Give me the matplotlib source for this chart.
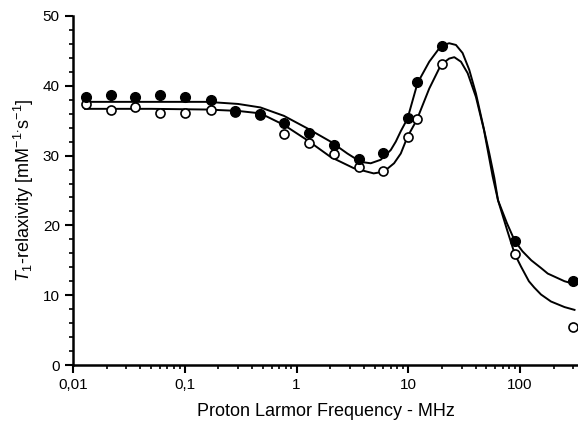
import numpy as np
import matplotlib
matplotlib.use("Agg")
import matplotlib.pyplot as plt
from matplotlib.ticker import LogLocator, FixedLocator, MultipleLocator, NullFormatter

plt.rcParams['font.family'] = 'Liberation Sans'
plt.rcParams['mathtext.fontset'] = 'custom'
plt.rcParams['mathtext.rm'] = 'Liberation Sans'
plt.rcParams['mathtext.it'] = 'Liberation Sans:italic'

# measured points (MHz, mM^-1 s^-1)
freq_filled = [0.013, 0.022, 0.036, 0.06, 0.1, 0.17, 0.28, 0.47, 0.77, 1.3, 2.16, 3.6, 6.0, 10, 12, 20, 90, 300]
r1_filled = [38.4, 38.7, 38.35, 38.7, 38.35, 37.9, 36.4, 36.0, 34.7, 33.3, 31.5, 29.5, 30.4, 35.4, 40.5, 45.75, 17.8, 12.1]

freq_open = [0.013, 0.022, 0.036, 0.06, 0.1, 0.17, 0.28, 0.47, 0.77, 1.3, 2.16, 3.6, 6.0, 10, 12, 20, 90, 300]
r1_open = [37.35, 36.5, 36.9, 36.1, 36.05, 36.6, 36.3, 35.8, 33.1, 31.8, 30.2, 28.4, 27.8, 32.7, 35.2, 43.1, 15.9, 5.5]

# fitted curves
fit_freq_up = [0.0128, 0.05, 0.159, 0.3, 0.475, 0.77, 1.25, 2.02, 2.85, 3.75, 4.61, 5.66, 6.97, 7.73, 8.57,
               9.84, 12.1, 15.4, 19.6, 23.2, 26.7, 30.6, 35.1, 40.3, 46.3, 53.1, 58.9, 63.5, 76.4, 89.6,
               105, 126, 154, 177, 250, 307]
fit_r1_up = [37.7, 37.7, 37.7, 37.4, 36.9, 35.7, 33.9, 32.0, 30.3, 29.1, 28.9, 29.4, 30.8, 32.0, 33.5,
             35.3, 40.4, 43.45, 45.7, 46.1, 45.85, 44.7, 42.3, 38.9, 34.6, 30.3, 26.8, 23.6, 20.3, 17.8,
             16.3, 15.0, 13.9, 13.1, 12.0, 11.6]

fit_freq_lo = [0.0128, 0.05, 0.159, 0.3, 0.475, 0.77, 1.25, 2.02, 3.25, 4.9, 6.04, 7.46, 8.57, 9.84, 11.9,
               15.4, 19.6, 23.2, 25.8, 29.6, 34.0, 40.3, 47.5, 56.9, 63.5, 76.4, 89.6, 102, 120, 134, 154,
               189, 250, 307]
fit_r1_lo = [36.7, 36.7, 36.6, 36.4, 36.05, 34.4, 32.2, 29.8, 28.2, 27.45, 27.7, 28.9, 30.3, 32.7, 35.1,
             39.6, 43.0, 43.9, 44.1, 43.45, 41.8, 38.4, 33.7, 27.0, 23.6, 19.4, 15.9, 14.1, 12.0, 11.1, 10.1,
             9.1, 8.3, 7.9]

fig = plt.figure(figsize=(5.78, 4.21), dpi=100)
ax = fig.add_axes([0.1263, 0.133, 0.8737, 0.829])

ax.plot(fit_freq_up, fit_r1_up, color='black', lw=1.4, zorder=2)
ax.plot(fit_freq_lo, fit_r1_lo, color='black', lw=1.4, zorder=2)
ax.plot(freq_open, r1_open, 'o', mfc='white', mec='black', mew=1.2, ms=6.5, ls='none', zorder=3)
ax.plot(freq_filled, r1_filled, 'o', color='black', ms=7, ls='none', zorder=4)

ax.set_xscale('log')
ax.set_xlim(0.01, 330)
ax.set_ylim(0, 50)

ax.xaxis.set_major_locator(FixedLocator([0.01, 0.1, 1, 10, 100]))
ax.set_xticklabels(['0,01', '0,1', '1', '10', '100'])
ax.xaxis.set_minor_locator(LogLocator(base=10, subs=np.arange(2, 10)))
ax.xaxis.set_minor_formatter(NullFormatter())
ax.yaxis.set_major_locator(MultipleLocator(10))
ax.yaxis.set_minor_locator(MultipleLocator(2))

for s in ['top', 'right']:
    ax.spines[s].set_visible(False)
for s in ['left', 'bottom']:
    ax.spines[s].set_linewidth(1.8)

ax.tick_params(which='major', direction='out', length=6, width=1.5, labelsize=11)
ax.tick_params(which='minor', direction='out', length=3, width=1.2)

ax.set_xlabel('Proton Larmor Frequency - MHz', fontsize=13, labelpad=8)
ax.set_ylabel(r'$\mathit{T}_{\mathit{1}}$-relaxivity [mM$^{\mathrm{-1}}$$^{\cdot}$s$^{\mathrm{-1}}$]',
              fontsize=13, labelpad=5)

fig.savefig('out.png', dpi=100)
